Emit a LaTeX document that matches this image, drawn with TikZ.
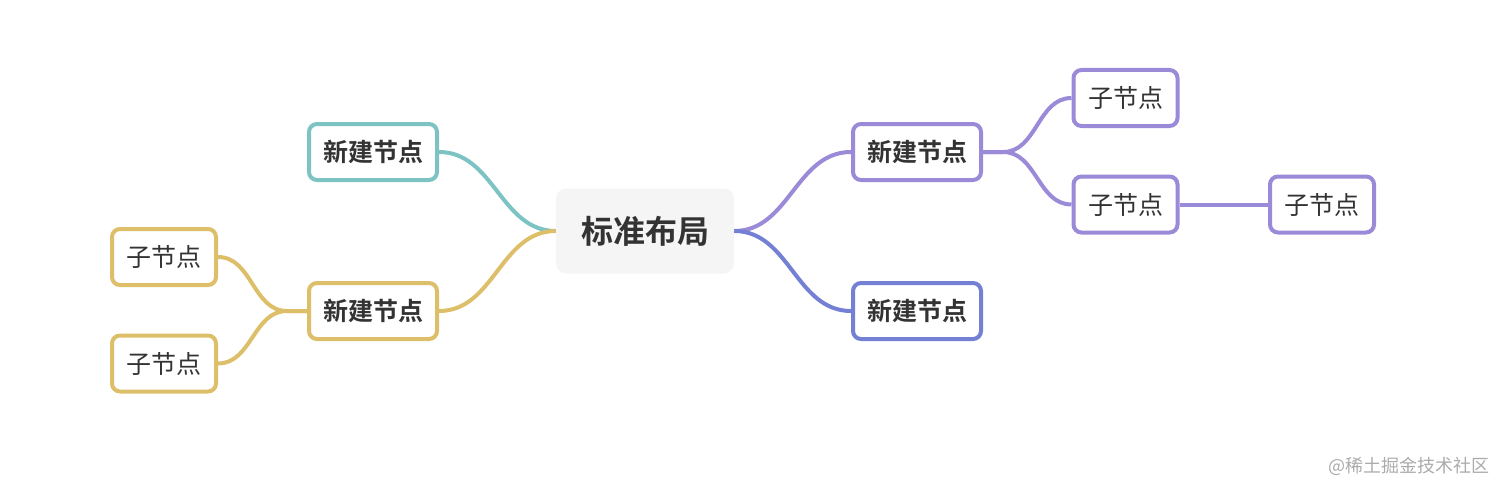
\documentclass[tikz,border=0pt]{standalone}
\usepackage{fontspec}
\newfontfamily\cjk{Noto Sans CJK SC}[BoldFont={Noto Sans CJK SC Bold}]
\definecolor{cpurple}{HTML}{9B8AD8}
\definecolor{cblue}{HTML}{7380D4}
\definecolor{cteal}{HTML}{7DC3C3}
\definecolor{cyellow}{HTML}{DDBE69}
\definecolor{cgray}{HTML}{F5F5F5}
\definecolor{ctext}{HTML}{333333}
\begin{document}
\begin{tikzpicture}[x=0.75pt, y=-0.75pt]
    \tikzstyle{every node}=[font=\cjk, text=ctext, align=center]
    \tikzset{
        n/.style={draw, line width=3pt, rounded corners=6pt, fill=white, inner sep=0pt, minimum height=42pt, minimum width=96pt, font=\cjk\bfseries\fontsize{18.75}{20}\selectfont},
        sub/.style={n, minimum width=78pt, font=\cjk\fontsize{18.75}{20}\selectfont},
        link/.style={line width=3pt}
        }
    \useasboundingbox (0,0) rectangle (1506,492);

    %root
    \node (root) at (645,231) [fill=cgray, rounded corners=7.5pt, minimum width=133.5pt, minimum height=63.75pt, font=\cjk\bfseries\fontsize{24}{26}\selectfont] {标准布局};

    %right side
    \node (rtop) at (917,152) [n, draw=cpurple] {新建节点};
    \node (rbot) at (917,311) [n, draw=cblue] {新建节点};
    \node (ra) at (1125.5,98) [sub, draw=cpurple] {子节点};
    \node (rb) at (1125.5,204.5) [sub, draw=cpurple] {子节点};
    \node (rc) at (1322,204.5) [sub, draw=cpurple] {子节点};

    %left side
    \node (ltop) at (373,152) [n, draw=cteal] {新建节点};
    \node (lbot) at (373,311) [n, draw=cyellow] {新建节点};
    \node (la) at (164,257) [sub, draw=cyellow] {子节点};
    \node (lb) at (164,363.5) [sub, draw=cyellow] {子节点};

    %forks
    \coordinate (rfork) at ([xshift=15pt]rtop.east);
    \coordinate (lfork) at ([xshift=-15pt]lbot.west);

    \draw[link, cpurple] (root.east) to [out=0,in=180] (rtop.west);
    \draw[link, cblue] (root.east) to [out=0,in=180] (rbot.west);
    \draw[link, cteal] (root.west) to [out=180,in=0] (ltop.east);
    \draw[link, cyellow] (root.west) to [out=180,in=0] (lbot.east);

    \draw[link, cpurple] (rtop.east) -- (rfork) to [out=0,in=180] (ra.west);
    \draw[link, cpurple] (rtop.east) -- (rfork) to [out=0,in=180] (rb.west);
    \draw[link, cpurple] (rb.east) -- (rc.west);
    \draw[link, cyellow] (lbot.west) -- (lfork) to [out=180,in=0] (la.east);
    \draw[link, cyellow] (lbot.west) -- (lfork) to [out=180,in=0] (lb.east);

    %watermark
    \node (mark) at (1409,466) [text=black!33, font=\cjk\fontsize{13.5}{15}\selectfont] {@稀土掘金技术社区};
\end{tikzpicture}
\end{document}
